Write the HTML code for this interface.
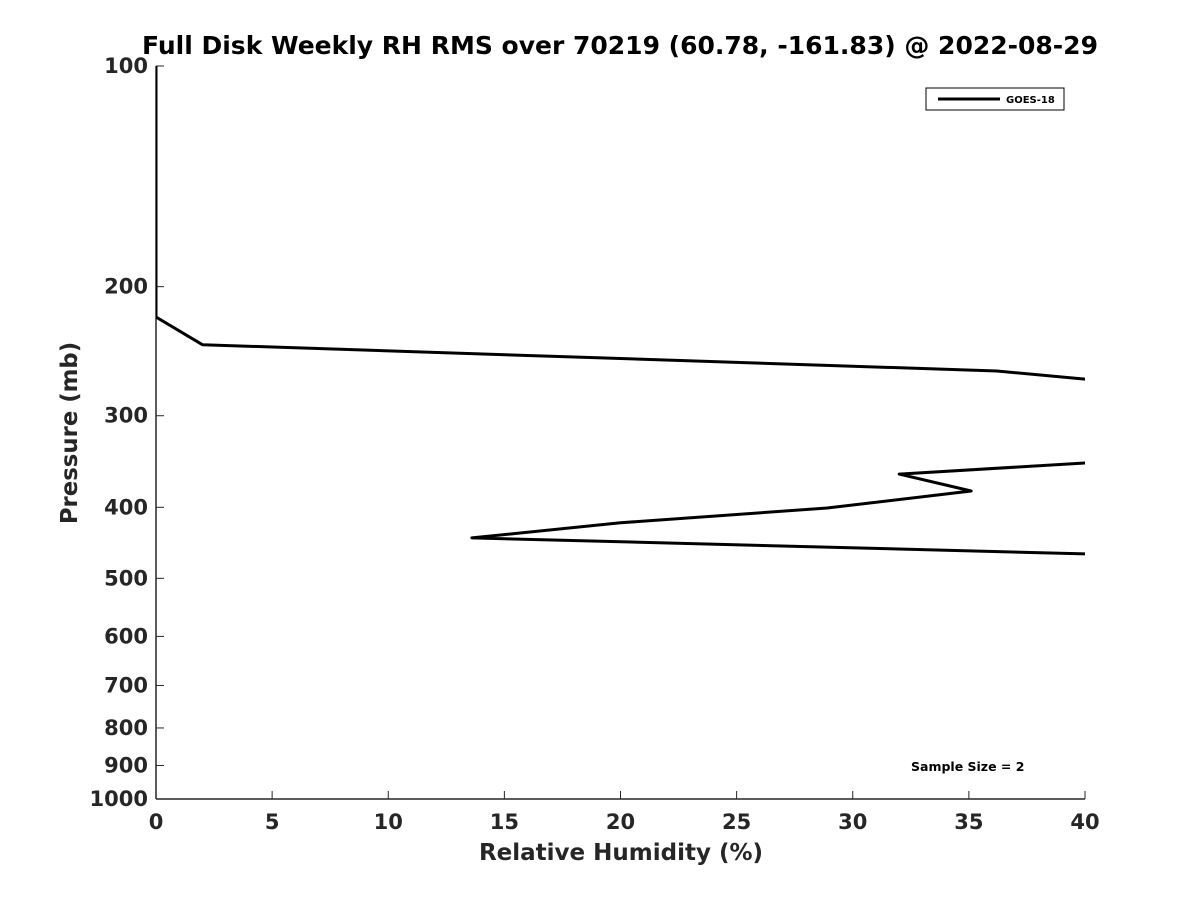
<!DOCTYPE html>
<html><head><meta charset="utf-8"><style>
body{margin:0;background:#fff;}
text{font-family:"DejaVu Sans","Liberation Sans",sans-serif;}
</style></head><body>
<svg id="chart" width="1200" height="900" xmlns="http://www.w3.org/2000/svg">
<rect width="1200" height="900" fill="#fff"/>
<text x="620" y="54" text-anchor="middle" font-size="25" font-weight="bold">Full Disk Weekly RH RMS over 70219 (60.78, -161.83) @ 2022-08-29</text>
<defs><clipPath id="clip"><rect x="156" y="60" width="929" height="740"/></clipPath></defs>
<g id="axes"></g>
<g id="plot" clip-path="url(#clip)"></g>
<g>
<rect x="926" y="88" width="138" height="22" fill="#fff" stroke="#000" stroke-width="1"/>
<line x1="938" y1="99" x2="1000" y2="99" stroke="#000" stroke-width="3"/>
<text x="1006" y="103" font-size="10" font-weight="bold">GOES-18</text>
</g>
<text x="911" y="771" font-size="12.5" font-weight="bold">Sample Size = 2</text>
<text x="621" y="860" text-anchor="middle" font-size="23" font-weight="bold" fill="#262626">Relative Humidity (%)</text>
<text transform="translate(77,433) rotate(-90)" text-anchor="middle" font-size="22.8" font-weight="bold" fill="#262626">Pressure (mb)</text>
</svg>
<script>
const xTicks=[0,5,10,15,20,25,30,35,40];
const yTicks=[100,200,300,400,500,600,700,800,900,1000];
const pressure=[100,120,150,180,200,210,220,240,260.7,267.4,280,300,320,340,348,360.4,380,400.9,420,440.4,463,480];
const rh=[0,0,0,0,0,0,0,2,36.2,40,50,60,55,47,40,32,35.1,28.9,20,13.6,40,60];
const X0=156,X1=1085,Y0=66,Y1=799;
const xs=v=>X0+(v-0)/(40-0)*(X1-X0);
const ys=p=>Y0+Math.log10(p/100)/Math.log10(10)*(Y1-Y0);
const NS="http://www.w3.org/2000/svg";
const axes=document.getElementById('axes'),plot=document.getElementById('plot');
function mk(t,a,par){const e=document.createElementNS(NS,t);for(const k in a)e.setAttribute(k,a[k]);par.appendChild(e);return e;}
let l=mk('line',{x1:X0,y1:Y0,x2:X0,y2:Y1,stroke:'#262626','stroke-width':1.5},axes);


l=mk('line',{x1:X0,y1:Y1,x2:X1,y2:Y1,stroke:'#262626','stroke-width':1.5},axes);


xTicks.forEach(v=>{const x=xs(v);
 mk('line',{x1:x,y1:Y1,x2:x,y2:Y1-8,stroke:'#262626','stroke-width':1},axes);
 const t=mk('text',{x:x,y:829,'text-anchor':'middle','font-size':21,'font-weight':'bold',fill:'#262626'},axes);t.textContent=v;
 
 
});
yTicks.forEach(v=>{const y=ys(v);
 mk('line',{x1:X0,y1:y,x2:X0+8,y2:y,stroke:'#262626','stroke-width':1},axes);
 const t=mk('text',{x:148,y:y+7,'text-anchor':'end','font-size':21,'font-weight':'bold',fill:'#262626'},axes);t.textContent=v;
 
 
});
const pts=pressure.map((p,i)=>xs(rh[i]).toFixed(1)+','+ys(p).toFixed(1)).join(' ');
const pl=mk('polyline',{points:pts,fill:'none',stroke:'#000','stroke-width':3,'stroke-linejoin':'round'},plot);


</script>
</body></html>
